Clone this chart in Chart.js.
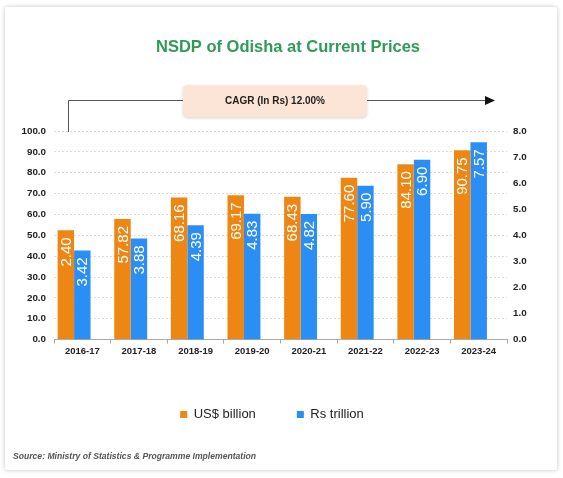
<!DOCTYPE html>
<html><head><meta charset="utf-8">
<script src="https://cdn.jsdelivr.net/npm/chart.js@4.4.1/dist/chart.umd.min.js"></script>
<style>
html,body{margin:0;padding:0;background:#fff;width:563px;height:478px;overflow:hidden}
#card{position:absolute;left:5px;top:7px;width:552px;height:463px;background:#fff;box-shadow:0 0 4px rgba(0,0,0,0.25);border-radius:2px}
#c{position:absolute;left:0;top:0}
</style></head><body>
<div id="card"></div>
<canvas id="c" width="563" height="478"></canvas>
<script>
const categories = ["2016-17","2017-18","2018-19","2019-20","2020-21","2021-22","2022-23","2023-24"];
const usdBillion = [52.40, 57.82, 68.16, 69.17, 68.43, 77.60, 84.10, 90.75];
const usdLabels  = ["2.40","57.82","68.16","69.17","68.43","77.60","84.10","90.75"];
const rsTrillion = [3.42, 3.88, 4.39, 4.83, 4.82, 5.90, 6.90, 7.57];
const rsLabels   = ["3.42","3.88","4.39","4.83","4.82","5.90","6.90","7.57"];
const titleText = "NSDP of Odisha at Current Prices";
const cagrText = "CAGR (In Rs) 12.00%";
const sourceText = "Source: Ministry of Statistics & Programme Implementation";

const FONT = "'Liberation Sans', Arial, Helvetica, sans-serif";
Chart.defaults.font.family = FONT;

const barLabels = {
  id: 'barLabels',
  afterDatasetsDraw(chart) {
    const ctx = chart.ctx;
    const sets = [usdLabels, rsLabels];
    [0,1].forEach(di => {
      const meta = chart.getDatasetMeta(di);
      meta.data.forEach((bar, i) => {
        ctx.save();
        ctx.translate(bar.x, bar.y + 7);
        ctx.rotate(-Math.PI/2);
        ctx.font = "15px " + FONT;
        ctx.fillStyle = "#ffffff";
        ctx.textAlign = "right";
        ctx.textBaseline = "middle";
        ctx.fillText(sets[di][i], 0, 1);
        ctx.restore();
      });
    });
  }
};

const decorations = {
  id: 'decorations',
  afterDraw(chart) {
    const ctx = chart.ctx;
    const ca = chart.chartArea;
    ctx.save();
    // title
    ctx.font = "bold 16.5px " + FONT;
    ctx.fillStyle = "#2f9b57";
    ctx.textAlign = "center";
    ctx.textBaseline = "middle";
    ctx.fillText(titleText, 288, 47);
    // CAGR arrow line
    const ly = 100;
    const lx = ca.left + 14;
    const tip = ca.right - 12;
    ctx.strokeStyle = "#555";
    ctx.lineWidth = 1;
    ctx.beginPath();
    ctx.moveTo(lx + 0.5, ca.top + 1);
    ctx.lineTo(lx + 0.5, ly + 0.5);
    ctx.lineTo(tip - 8, ly + 0.5);
    ctx.stroke();
    ctx.fillStyle = "#111";
    ctx.beginPath();
    ctx.moveTo(tip, ly + 0.5);
    ctx.lineTo(tip - 10, ly - 4);
    ctx.lineTo(tip - 10, ly + 5);
    ctx.closePath();
    ctx.fill();
    // box
    const bx = 183, by = 85, bw = 184, bh = 32, r = 5;
    ctx.save();
    ctx.shadowColor = "rgba(0,0,0,0.18)";
    ctx.shadowBlur = 3;
    ctx.shadowOffsetY = 1;
    ctx.fillStyle = "#fce4d6";
    ctx.beginPath();
    ctx.moveTo(bx + r, by);
    ctx.lineTo(bx + bw - r, by);
    ctx.quadraticCurveTo(bx + bw, by, bx + bw, by + r);
    ctx.lineTo(bx + bw, by + bh - r);
    ctx.quadraticCurveTo(bx + bw, by + bh, bx + bw - r, by + bh);
    ctx.lineTo(bx + r, by + bh);
    ctx.quadraticCurveTo(bx, by + bh, bx, by + bh - r);
    ctx.lineTo(bx, by + r);
    ctx.quadraticCurveTo(bx, by, bx + r, by);
    ctx.closePath();
    ctx.fill();
    ctx.restore();
    ctx.font = "bold 10px " + FONT;
    ctx.fillStyle = "#222";
    ctx.textAlign = "center";
    ctx.textBaseline = "middle";
    ctx.fillText(cagrText, bx + bw/2, by + bh/2 + 0.5);
    // source
    ctx.font = "italic bold 8.6px " + FONT;
    ctx.fillStyle = "#555";
    ctx.textAlign = "left";
    ctx.textBaseline = "middle";
    ctx.fillText(sourceText, 13, 457);
    ctx.restore();
  }
};

new Chart(document.getElementById('c'), {
  type: 'bar',
  data: {
    labels: categories,
    datasets: [
      { label: 'US$ billion', data: usdBillion, backgroundColor: '#ee8613', yAxisID: 'y', borderWidth: 0 },
      { label: 'Rs trillion', data: rsTrillion, backgroundColor: '#2b8ef5', yAxisID: 'y1', borderWidth: 0 },
      { label: '', data: [], backgroundColor: 'rgba(0,0,0,0)', yAxisID: 'y' }
    ]
  },
  options: {
    responsive: false,
    animation: false,
    devicePixelRatio: 1,
    categoryPercentage: 0.872,
    barPercentage: 1,
    layout: { padding: { left: 4, right: 23, top: 131, bottom: 47 } },
    plugins: {
      title: { display: false },
      tooltip: { enabled: false },
      legend: {
        position: 'bottom',
        labels: {
          boxWidth: 7, boxHeight: 7, padding: 41,
          color: '#222',
          font: { size: 13 },
          filter: (item) => item.text !== ''
        }
      }
    },
    scales: {
      x: {
        grid: { display: true, drawOnChartArea: false, drawTicks: true, tickLength: 4, color: '#aaa' },
        border: { display: true, color: '#aaa' },
        ticks: { color: '#222', font: { size: 9.5, weight: 'bold' }, padding: 2, maxRotation: 0 },
        afterFit(s) { s.height += 8; }
      },
      y: {
        position: 'left',
        min: 0, max: 100,
        ticks: { stepSize: 10, color: '#222', font: { size: 9.8, weight: 'bold' }, padding: 8,
                 callback: v => v.toFixed(1) },
        grid: { color: '#dcdcdc', drawTicks: false },
        border: { display: false, dash: [2, 2] },
        afterFit(s) { s.width = 50; }
      },
      y1: {
        position: 'right',
        min: 0, max: 8,
        ticks: { stepSize: 1, color: '#222', font: { size: 9.8, weight: 'bold' }, padding: 6,
                 callback: v => v.toFixed(1) },
        grid: { display: false, drawTicks: false },
        border: { display: false },
        afterFit(s) { s.width = 33; }
      }
    }
  },
  plugins: [barLabels, decorations]
});
</script>
</body></html>
